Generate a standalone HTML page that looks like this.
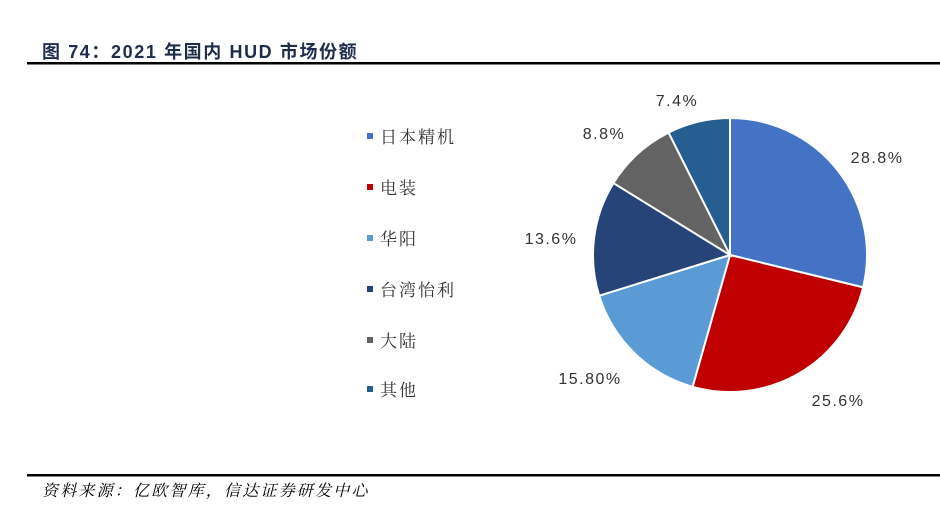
<!DOCTYPE html>
<html><head><meta charset="utf-8"><style>
body{margin:0;background:#fff;}
svg{display:block}
</style></head><body>
<svg id="s" width="940" height="528" xmlns="http://www.w3.org/2000/svg" font-family="'Liberation Sans','Noto Sans CJK SC',sans-serif">
<text x="42" y="58" font-size="18" font-weight="bold" fill="#1f2d4d" letter-spacing="1.6">图 74：2021 年国内 HUD 市场份额</text>
<rect x="27" y="62" width="913" height="2.5" fill="#000"/>
<rect x="27" y="474" width="913" height="2.5" fill="#000"/>
<text x="42" y="496" font-size="16" font-style="italic" fill="#000" letter-spacing="2.2" font-family="'Noto Serif CJK SC','Noto Sans CJK SC',serif">资料来源：亿欧智库，信达证券研发中心</text>
<g font-size="17" fill="#333" letter-spacing="2" font-family="'Noto Serif CJK SC','Noto Sans CJK SC',serif">
<rect x="367" y="133" width="6" height="6" fill="#4472C4"/><text x="380" y="143">日本精机</text>
<rect x="367" y="184" width="6" height="6" fill="#C00000"/><text x="380" y="194">电装</text>
<rect x="367" y="235" width="6" height="6" fill="#5B9BD5"/><text x="380" y="245">华阳</text>
<rect x="367" y="286" width="6" height="6" fill="#264478"/><text x="380" y="296">台湾怡利</text>
<rect x="367" y="337" width="6" height="6" fill="#636363"/><text x="380" y="347">大陆</text>
<rect x="367" y="386" width="6" height="6" fill="#255E91"/><text x="380" y="396">其他</text>
</g>
<g id="pie"></g>
<g font-size="16" fill="#333" letter-spacing="1.5" text-anchor="middle">
<text x="877" y="163">28.8%</text>
<text x="838" y="406">25.6%</text>
<text x="590" y="384">15.80%</text>
<text x="551" y="244">13.6%</text>
<text x="604" y="139">8.8%</text>
<text x="677" y="106">7.4%</text>
</g>
</svg>
<script>
var d=[28.8,25.6,15.8,13.6,8.8,7.4],c=["#4472C4","#C00000","#5B9BD5","#264478","#636363","#255E91"];
var cx=730,cy=255,r=137,a=0,g=document.getElementById("pie"),h="";
for(var i=0;i<d.length;i++){var a1=a+d[i]/100*2*Math.PI;
var x0=cx+r*Math.sin(a),y0=cy-r*Math.cos(a),x1=cx+r*Math.sin(a1),y1=cy-r*Math.cos(a1);
h+='<path d="M'+cx+','+cy+'L'+x0+','+y0+'A'+r+','+r+' 0 '+(a1-a>Math.PI?1:0)+' 1 '+x1+','+y1+'Z" fill="'+c[i]+'" stroke="#fff" stroke-width="2"/>';a=a1;}
g.innerHTML=h;
</script>
</body></html>
